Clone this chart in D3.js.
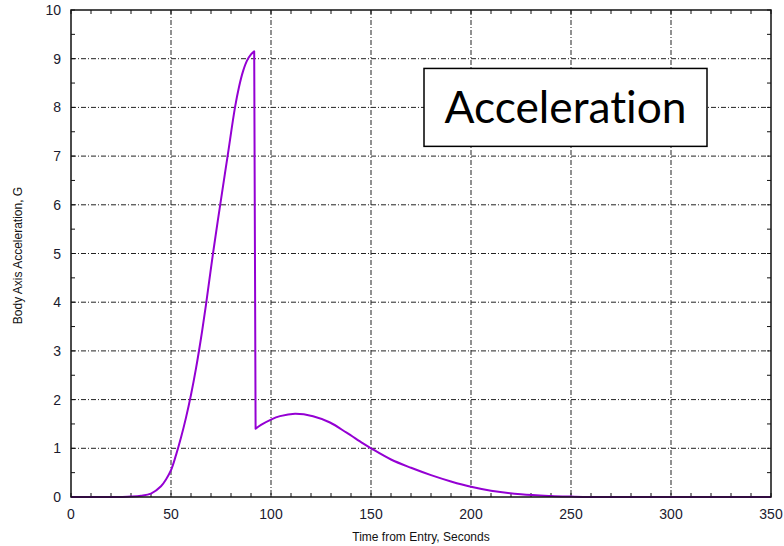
<html>
  <head>
    <script type="text/javascript" src="https://cdn.jsdelivr.net/npm/d3@7"></script>
    <style>
      body { margin: 0; background: #fff; }
      .tick-label { font-family: "Liberation Sans", Arial, sans-serif; font-size: 14px; fill: #1a1a2e; }
      .axis-title { font-family: "Liberation Sans", Arial, sans-serif; font-size: 12px; fill: #111; }
    </style>
  </head>
  <body>
    <div id="chart"></div>
    <script type="text/javascript">
      // time from entry (s) and body axis acceleration (G)
      // rising pulse up to the peak, then the second hump after the drop
      var riseTime = [0, 10, 20, 25, 30, 35, 40, 45, 47.5, 50, 52.5, 55, 57.5, 60, 62.5, 65, 67.5, 71, 74.6, 78.3, 82, 84, 86, 88, 90, 91.6];
      var riseG    = [0, 0, 0, 0.002, 0.008, 0.025, 0.07, 0.22, 0.36, 0.55, 0.86, 1.22, 1.63, 2.1, 2.64, 3.26, 3.95, 5.0, 6.0, 7.0, 8.0, 8.42, 8.74, 8.96, 9.09, 9.15];
      var fallTime = [92.3, 95, 100, 104.5, 112, 121, 129.5, 137.8, 146, 150, 160, 170, 180, 190, 200, 210, 225, 240, 250, 260, 300, 350];
      var fallG    = [1.40, 1.48, 1.59, 1.66, 1.71, 1.66, 1.53, 1.32, 1.10, 1.0, 0.77, 0.60, 0.45, 0.32, 0.21, 0.13, 0.055, 0.02, 0.008, 0, 0, 0];
      var xTicks = [0, 50, 100, 150, 200, 250, 300, 350];
      var yTicks = [0, 1, 2, 3, 4, 5, 6, 7, 8, 9, 10];
      var xMinor = d3.range(0, 351, 10);
      var yMinor = d3.range(0, 10.01, 0.5);
      var labelText = "Acceleration";

      var W = 784, H = 546,
          L = 71, R = 771, T = 10, B = 497;

      var x = d3.scaleLinear().domain([0, 350]).range([L, R]);
      var y = d3.scaleLinear().domain([0, 10]).range([B, T]);

      var svg = d3.select("#chart").append("svg").attr("width", W).attr("height", H);

      // dash-dot grid at major ticks
      var grid = svg.append("g").attr("stroke", "#222").attr("stroke-width", 1).attr("stroke-dasharray", "5,2,1,2");
      grid.selectAll("line.gx").data(xTicks.slice(1, -1)).enter().append("line")
        .attr("x1", function(d) { return x(d); }).attr("x2", function(d) { return x(d); })
        .attr("y1", T).attr("y2", B);
      grid.selectAll("line.gy").data(yTicks.slice(1, -1)).enter().append("line")
        .attr("class", "gy")
        .attr("y1", function(d) { return y(d); }).attr("y2", function(d) { return y(d); })
        .attr("x1", L).attr("x2", R);

      // inward minor ticks on all four sides
      var ticks = svg.append("g").attr("stroke", "#111").attr("stroke-width", 1);
      xMinor.forEach(function(d) {
        ticks.append("line").attr("x1", x(d)).attr("x2", x(d)).attr("y1", B).attr("y2", B - 4);
        ticks.append("line").attr("x1", x(d)).attr("x2", x(d)).attr("y1", T).attr("y2", T + 4);
      });
      yMinor.forEach(function(d) {
        ticks.append("line").attr("y1", y(d)).attr("y2", y(d)).attr("x1", L).attr("x2", L + 4);
        ticks.append("line").attr("y1", y(d)).attr("y2", y(d)).attr("x1", R).attr("x2", R - 4);
      });

      // curve: two smooth pieces joined by the near-vertical drop
      var line = d3.line()
        .x(function(d) { return x(d[0]); })
        .y(function(d) { return y(d[1]); })
        .curve(d3.curveCatmullRom.alpha(0.5));
      var rise = d3.zip(riseTime, riseG), fall = d3.zip(fallTime, fallG);
      var dPath = line(rise) + "L" + line(fall).slice(1);
      svg.append("path")
        .attr("d", dPath)
        .attr("fill", "none")
        .attr("stroke", "#9400d3")
        .attr("stroke-width", 2)
        .attr("stroke-linejoin", "round");

      // frame
      svg.append("rect").attr("x", L).attr("y", T).attr("width", R - L).attr("height", B - T)
        .attr("fill", "none").attr("stroke", "#111").attr("stroke-width", 1.5);

      // tick labels
      svg.selectAll("text.xl").data(xTicks).enter().append("text")
        .attr("class", "tick-label").attr("text-anchor", "middle")
        .attr("x", function(d) { return x(d); }).attr("y", B + 22)
        .text(function(d) { return d; });
      svg.selectAll("text.yl").data(yTicks).enter().append("text")
        .attr("class", "tick-label").attr("text-anchor", "end")
        .attr("x", L - 10).attr("y", function(d) { return y(d) + 5; })
        .text(function(d) { return d; });

      // axis titles
      svg.append("text").attr("class", "axis-title").attr("text-anchor", "middle")
        .attr("x", (L + R) / 2).attr("y", 541).text("Time from Entry, Seconds");
      svg.append("text").attr("class", "axis-title").attr("text-anchor", "middle")
        .attr("transform", "translate(22," + ((T + B) / 2 + 2) + ") rotate(-90)")
        .text("Body Axis Acceleration, G");

      // annotation box
      var bx0 = x(176.5), bx1 = x(318), by0 = y(8.8), by1 = y(7.2);
      svg.append("rect").attr("x", bx0).attr("y", by0).attr("width", bx1 - bx0).attr("height", by1 - by0)
        .attr("fill", "#fff").attr("stroke", "#000").attr("stroke-width", 1.5);
      svg.append("text").attr("x", (bx0 + bx1) / 2).attr("y", by0 + 55)
        .attr("text-anchor", "middle")
        .attr("font-family", "Lato, 'Open Sans', sans-serif").attr("font-size", 44)
        .style("font-variant-ligatures", "none")
        .attr("textLength", 242).attr("lengthAdjust", "spacingAndGlyphs")
        .attr("fill", "#000")
        .text(labelText);
    </script>
  </body>
</html>
